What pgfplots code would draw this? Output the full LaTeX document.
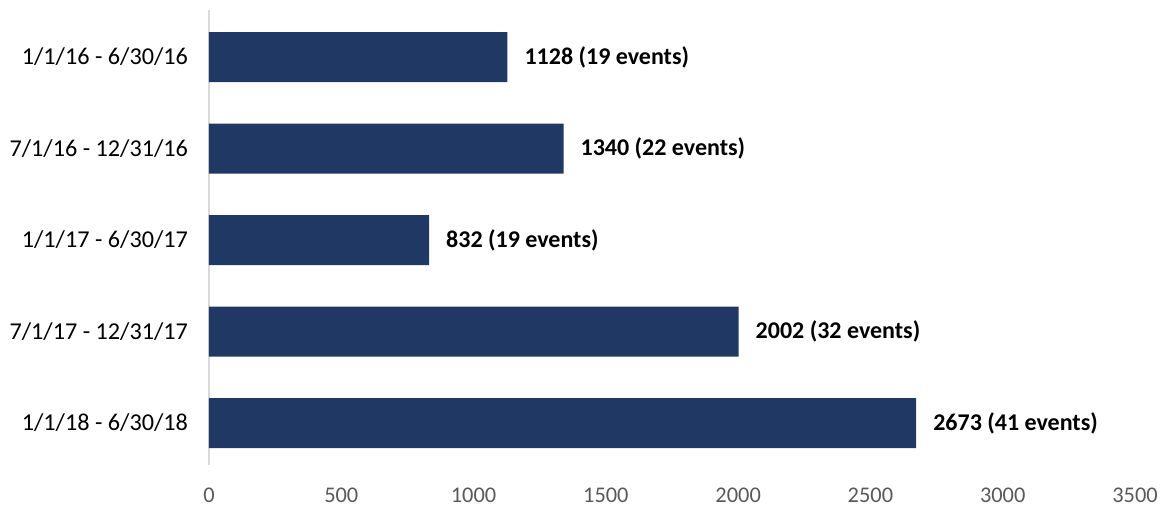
\documentclass[border=0pt]{standalone}
\usepackage{fontspec}
\setmainfont{Carlito}
\usepackage{pgfplots}
\pgfplotsset{compat=1.18}
\definecolor{barblue}{HTML}{203864}
\definecolor{ticktext}{HTML}{595959}
\definecolor{axisgray}{HTML}{D9D9D9}

\begin{document}
\begin{tikzpicture}
\begin{axis}[
    xbar,
    scale only axis,
    width=463pt, height=227.5pt,
    xmin=0, xmax=3500,
    ymin=-0.514, ymax=4.459,
    y dir=reverse,
    bar width=25pt,
    axis y line=left,
    axis x line*=bottom,
    x axis line style={draw=none},
    y axis line style={draw=axisgray, line width=0.8pt, -},
    major tick length=0pt,
    xtick={0,500,...,3500},
    ytick={0,1,2,3,4},
    yticklabels={1/1/16 - 6/30/16, 7/1/16 - 12/31/16, 1/1/17 - 6/30/17, 7/1/17 - 12/31/17, 1/1/18 - 6/30/18},
    /pgf/number format/assume math mode=true,
    /pgf/number format/1000 sep={},
    xticklabel style={font=\fontsize{11.2}{13}\selectfont, text=ticktext, yshift=-8pt},
    yticklabel style={font=\fontsize{12.1}{14}\selectfont, text=black, xshift=-7pt},
    nodes near coords,
    point meta=explicit symbolic,
    every node near coord/.append style={font=\fontsize{12}{14}\bfseries, text=black, anchor=west, xshift=5pt},
]
\addplot[fill=barblue, draw=none] coordinates {
    (1128,0) [1128 (19 events)]
    (1340,1) [1340 (22 events)]
    (832,2)  [832 (19 events)]
    (2002,3) [2002 (32 events)]
    (2673,4) [2673 (41 events)]
};
\end{axis}
\pgfresetboundingbox
\path[use as bounding box] ([shift={(-104.5pt,-21.5pt)}]current axis.south west) rectangle ([shift={(13.5pt,5pt)}]current axis.north east);
\end{tikzpicture}
\end{document}
